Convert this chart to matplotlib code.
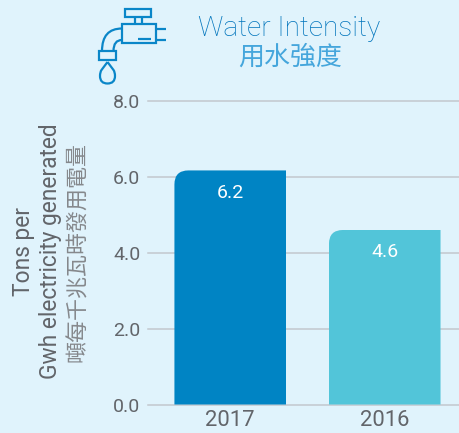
import matplotlib
matplotlib.use("Agg")
import matplotlib.pyplot as plt
from matplotlib.path import Path
from matplotlib.patches import PathPatch, Rectangle

categories = ["2017", "2016"]
values = [6.17, 4.6]
value_labels = ["6.2", "4.6"]
bar_colors = ["#0084C4", "#52C5D9"]
y_ticks = [0, 2, 4, 6, 8]
y_tick_labels = ["0.0", "2.0", "4.0", "6.0", "8.0"]
title_en = "Water Intensity"
title_zh = "用水強度"
ylabel_lines = ["Tons per", "Gwh electricity generated", "噸每千兆瓦時發用電量"]

BG = "#E0F3FC"
BLUE = "#0A86C8"
TITLE_EN = "#0074BC"
TITLE_ZH = "#45A6DC"
GREY = "#62656A"
GREY_ZH = "#85888C"
GRID = "#C3C7CE"
W, H = 460, 433
FONT = ["Roboto", "DejaVu Sans"]
CJK = ["Noto Sans CJK TC", "DejaVu Sans"]
px = 0.72  # font points per pixel at dpi 100

fig = plt.figure(figsize=(W / 100, H / 100), dpi=100, facecolor=BG)
ax = fig.add_axes([148 / W, 1 - 404.5 / H, (460 - 148) / W, (404.5 - 101) / H])
ax.set_facecolor(BG)
for s in ax.spines.values():
    s.set_visible(False)
ax.set_xlim(-0.532, 1.487)
ax.set_ylim(0, 8)
ax.set_yticks(y_ticks, y_tick_labels, fontsize=19.5 * px, color=GREY, family=FONT)
ax.set_xticks(range(len(categories)), categories, fontsize=22 * px, color=GREY, family=FONT)
ax.tick_params(length=0)
ax.tick_params(axis="y", pad=5.5)
ax.tick_params(axis="x", pad=4)
ax.grid(axis="y", color=GRID, lw=1.1, zorder=0)
ax.set_axisbelow(True)
for g in ax.get_ygridlines():
    g.set_clip_on(False)

bars = ax.bar(range(len(values)), values, width=0.722, color=bar_colors, linewidth=0, zorder=3)
# rounded top-left corner via clip path derived from each bar
rx = 14 * (ax.get_xlim()[1] - ax.get_xlim()[0]) / (460 - 148)
ry = 14 * 8 / (404.5 - 101)
for b, label in zip(bars, value_labels):
    x0, x1 = b.get_x(), b.get_x() + b.get_width()
    top = b.get_height()
    verts = [(x0, 0), (x0, top - ry), (x0, top), (x0 + rx, top), (x1, top), (x1, 0), (x0, 0)]
    codes = [Path.MOVETO, Path.LINETO, Path.CURVE3, Path.CURVE3, Path.LINETO, Path.LINETO, Path.CLOSEPOLY]
    b.set_clip_path(PathPatch(Path(verts, codes), transform=ax.transData))
    ax.annotate(label, (b.get_x() + b.get_width() / 2, top), xytext=(0, -16),
                textcoords="offset points", ha="center", va="center",
                color="white", fontsize=19.5 * px, family=FONT, zorder=4)

# overlay in pixel coordinates for header text, axis title and icon
ov = fig.add_axes([0, 0, 1, 1], facecolor="none")
ov.set_xlim(0, W)
ov.set_ylim(H, 0)
ov.axis("off")
ov.text(289.5, 29, title_en, ha="center", va="center", color=TITLE_EN, fontsize=28 * px, family=FONT, weight="light")
ov.text(290.5, 57.5, title_zh, ha="center", va="center", color=TITLE_ZH, fontsize=26 * px, family=CJK, weight="light")
ov.text(24, 251, ylabel_lines[0], rotation=90, ha="center", va="center", color=GREY, fontsize=22.8 * px, family=FONT)
ov.text(51, 251, ylabel_lines[1], rotation=90, ha="center", va="center", color=GREY, fontsize=22.8 * px, family=FONT)
ov.text(78, 251.5, ylabel_lines[2], rotation=90, ha="center", va="center", color=GREY_ZH, fontsize=22 * px, family=CJK, weight="light")

lw = 1.6
kw = dict(fill=False, ec=BLUE, lw=lw)
ov.add_patch(Rectangle((125, 9), 26.5, 7.5, **kw))
ov.add_patch(Rectangle((122, 24), 34, 19, **kw))
ov.add_patch(Rectangle((99.5, 51), 17, 8.5, **kw))
for xs, ys in [((135, 135), (16.5, 24)), ((142.5, 142.5), (16.5, 24)),
               ((156, 166), (28.5, 28.5)), ((156, 166), (40, 40)), ((138.5, 151.5), (38.5, 38.5))]:
    ov.plot(xs, ys, color=BLUE, lw=lw, solid_capstyle="butt")
elbow = [((122, 28.5), (102, 28.5), (102, 51)), ((122, 40), (113.5, 40), (113.5, 51))]
for p in elbow:
    ov.add_patch(PathPatch(Path(p, [Path.MOVETO, Path.CURVE3, Path.CURVE3]), **kw))
drop = [(107.5, 62), (101.5, 70), (100, 72), (100, 76), (100, 83.5), (107.5, 83.5),
        (115, 83.5), (115, 76), (115, 72), (113.5, 70), (107.5, 62)]
drop_codes = [Path.MOVETO, Path.LINETO] + [Path.CURVE3] * 8 + [Path.LINETO]
ov.add_patch(PathPatch(Path(drop, drop_codes), **kw))

fig.savefig("out.png", dpi=100, facecolor=BG)
